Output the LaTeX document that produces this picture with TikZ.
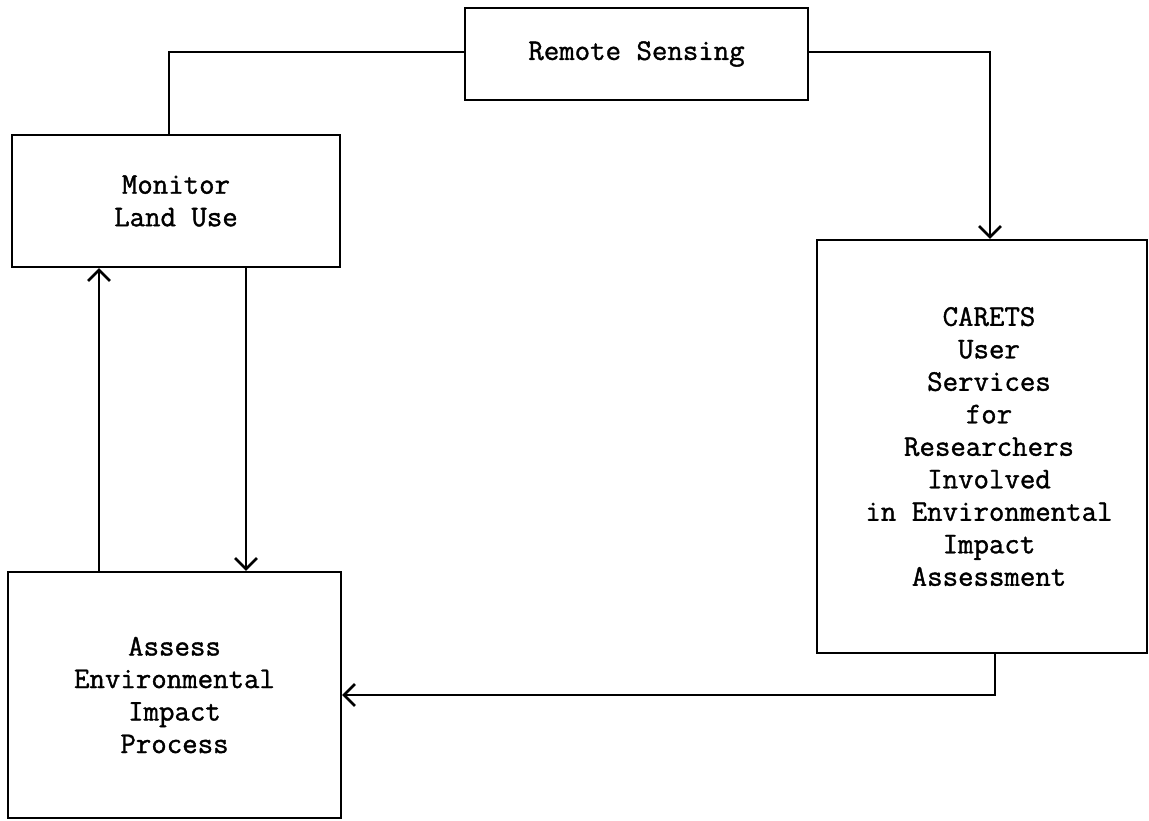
\documentclass[tikz,border=0pt]{standalone}
\usepackage{fontspec}
\newfontfamily\twfont[FakeBold=1.2]{Latin Modern Mono}
\usetikzlibrary{arrows.meta}
\begin{document}
\begin{tikzpicture}[x=1pt,y=-1pt,
  box/.style={draw=black,line width=2.2pt,rectangle,align=center,inner sep=0pt,
    font=\twfont\fontsize{30}{32.5}\selectfont},
  conn/.style={draw=black,line width=2.6pt},
  arr/.style={conn,-{Straight Barb[length=11pt,width=22pt,line width=2.6pt]}}]
\useasboundingbox (0,0) rectangle (1149,820);
\fill[white] (0,0) rectangle (1149,820);
\node[box,minimum width=343pt,minimum height=92pt] (rs) at (636.5,54) {Remote Sensing};
\node[box,minimum width=328pt,minimum height=132pt] (mon) at (176,201) {Monitor\\Land Use};
\node[box,minimum width=330pt,minimum height=413pt] (car) at (982,446.5)
  {\hspace*{14pt}CARETS\\\hspace*{14pt}User\\\hspace*{14pt}Services\\\hspace*{14pt}for\\\hspace*{14pt}Researchers\\\hspace*{14pt}Involved\\\hspace*{14pt}in Environmental\\\hspace*{14pt}Impact\\\hspace*{14pt}Assessment};
\node[box,minimum width=333pt,minimum height=246pt] (as) at (174.5,695) {Assess\\Environmental\\Impact\\Process};
% connectors
\coordinate (m1) at (169,52);
\draw[conn] (rs.west |- m1) -- (m1) -- (m1 |- mon.north);
\coordinate (c1) at (990,52);
\draw[arr] (rs.east |- c1) -- (c1) -- (c1 |- car.north);
\coordinate (d1) at (246,0);
\draw[arr] (d1 |- mon.south) -- (d1 |- as.north);
\coordinate (u1) at (99,0);
\draw[arr] (u1 |- as.north) -- (u1 |- mon.south);
\coordinate (b1) at (995,695);
\draw[arr] (b1 |- car.south) -- (b1) -- (as.east |- b1);
\end{tikzpicture}
\end{document}
